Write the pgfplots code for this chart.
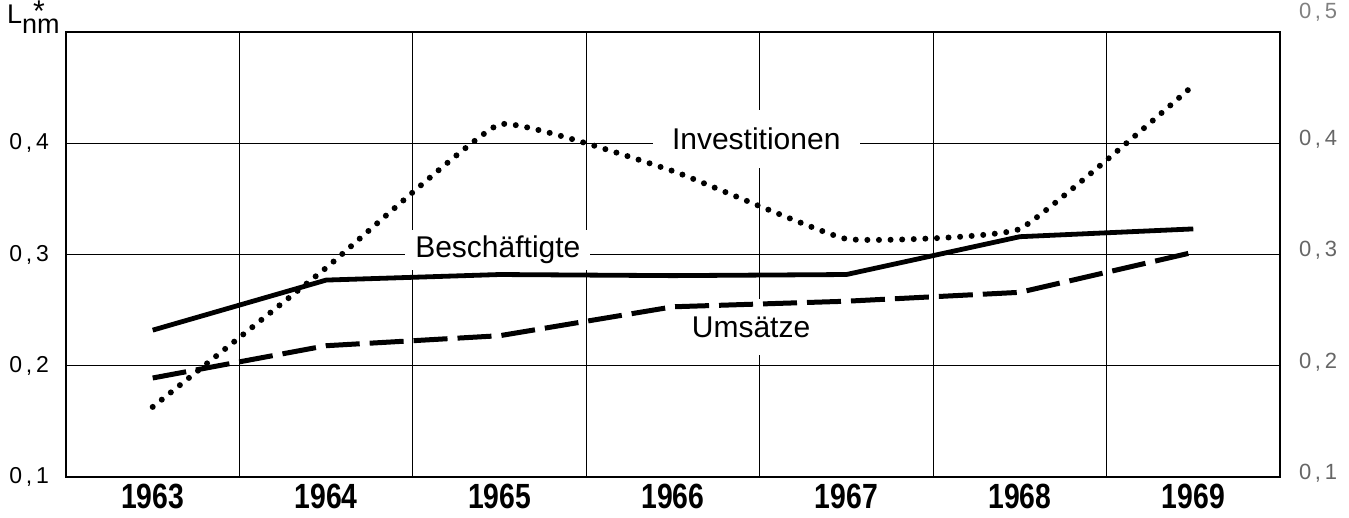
\documentclass[border=0pt]{standalone}
\usepackage{pgfplots}
\pgfplotsset{compat=1.18}
\usepackage{fontspec}
\setmainfont{Liberation Sans}
\newfontfamily\yearfont{Liberation Sans}[FakeStretch=0.81]

\begin{document}
\begin{tikzpicture}
\path[use as bounding box] (-33pt,-20.5pt) rectangle (641.5pt,238.5pt);
\begin{axis}[
  at={(0,0)}, anchor=south west,
  scale only axis,
  width=607pt, height=222.5pt,
  xmin=1962.5, xmax=1969.5,
  ymin=0.1, ymax=0.5,
  xtick={1963,1964,1965,1966,1967,1968,1969},
  xticklabels={1963,1964,1965,1966,1967,1968,1969},
  xticklabel style={font=\yearfont\bfseries\fontsize{17.5}{18}\selectfont},
  minor xtick={1963.5,1964.5,1965.5,1966.5,1967.5,1968.5},
  xminorgrids,
  ytick={0.1,0.2,0.3,0.4},
  yticklabels={{0\,,\,1},{0\,,\,2},{0\,,\,3},{0\,,\,4}},
  yticklabel style={font=\fontsize{11.5}{12}\selectfont, xshift=-5pt},
  ymajorgrids,
  major tick length=0pt, minor tick length=0pt,
  grid style={black, line width=0.5pt},
  minor grid style={black, line width=0.5pt},
  axis line style={line width=1.4pt},
  clip mode=individual,
]
% Beschriftungen (weiss hinterlegt, unter den Kurven)
\node[fill=white, inner sep=0pt, minimum width=103.5pt, minimum height=29pt,
      font=\fontsize{15}{15}\selectfont] at (axis cs:1966.48,0.4036) {Investitionen};
\node[fill=white, inner sep=0pt, minimum width=92.5pt, minimum height=20pt,
      font=\fontsize{15}{15}\selectfont] at (axis cs:1964.99,0.3041) {Beschäftigte};
\node[fill=white, inner sep=0pt, minimum width=70pt, minimum height=28pt,
      font=\fontsize{15}{15}\selectfont] at (axis cs:1966.45,0.2345) {Umsätze};

% Beschaeftigte
\addplot[black, line width=2.4pt, line join=round] coordinates {
  (1963,0.232) (1964,0.277) (1965,0.282) (1966,0.281)
  (1967,0.282) (1968,0.316) (1969,0.323)
};
% Umsaetze
\addplot[black, line width=2.5pt, dash pattern=on 17pt off 5pt] coordinates {
  (1963,0.189) (1964,0.218) (1965,0.227) (1966,0.253)
  (1967,0.258) (1968,0.266) (1969,0.302)
};
% Investitionen
\addplot[black, line width=3pt, line cap=round, dash pattern=on 0pt off 5.8pt,
         smooth, tension=0.2] coordinates {
  (1963,0.163) (1964,0.288) (1965,0.417) (1966,0.375)
  (1967,0.314) (1968,0.323) (1969,0.452)
};

% rechte Skala
\foreach \v/\t in {0.1/{0\,,\,1},0.2/{0\,,\,2},0.3/{0\,,\,3},0.4/{0\,,\,4}}{
  \edef\temp{\noexpand\node[anchor=west, text=black!60, font=\noexpand\fontsize{11}{12}\noexpand\selectfont,
    xshift=6pt, yshift=2pt] at (axis cs:1969.5,\v) {\t};}
  \temp
}
\node[anchor=west, text=black!50, font=\fontsize{11}{12}\selectfont, xshift=6pt, yshift=10pt]
  at (axis cs:1969.5,0.5) {0\,,\,5};

% Achsenbezeichnung
\node[anchor=base east, inner sep=0pt, xshift=-3pt, yshift=4pt,
      font=\fontsize{13.5}{14}\selectfont] at (rel axis cs:0,1)
  {L\raisebox{-5pt}{n\rlap{\kern-2pt\raisebox{6pt}{\fontsize{15}{15}\selectfont *}}m}};
\end{axis}
\end{tikzpicture}
\end{document}
